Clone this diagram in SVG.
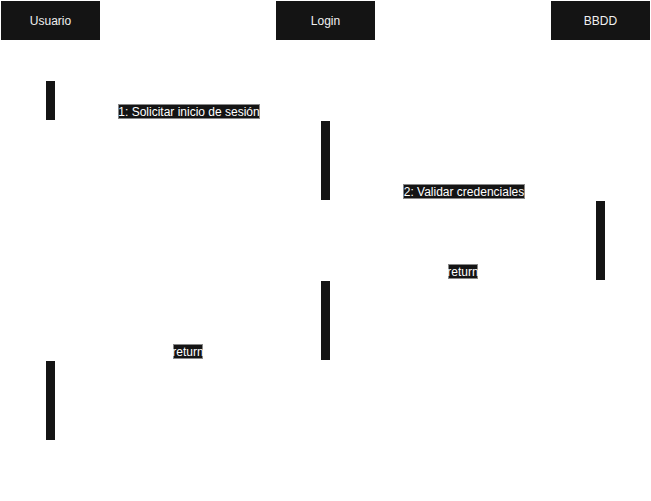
<svg xmlns="http://www.w3.org/2000/svg" width="651" height="501" viewBox="0 0 651 501">
<defs>
<style>
.hdr{fill:#141414}
.hdrt{fill:#f0f0f0;font-family:"Liberation Sans",Arial,sans-serif;font-size:12px;text-anchor:middle}
.act{fill:#141414}
.life{stroke:#ffffff;stroke-width:1;stroke-dasharray:4 3;fill:none}
.msg{stroke:#ffffff;stroke-width:1.5;fill:none}
.lblbg{fill:#141414;stroke:#888888;stroke-width:1}
.lbl{fill:#ffffff;font-family:"Liberation Sans",Arial,sans-serif;font-size:12px;text-anchor:middle}
</style>
<marker id="ah" markerWidth="8" markerHeight="8" refX="7" refY="4" orient="auto"><path d="M0,0 L8,4 L0,8 z" fill="#ffffff"/></marker>
</defs>
<rect width="651" height="501" fill="#ffffff"/>
<g id="usuario">
<rect class="hdr" x="1" y="1" width="99" height="39"/>
<text class="hdrt" x="50.5" y="25">Usuario</text>
<line class="life" x1="50.5" y1="40" x2="50.5" y2="480"/>
<rect class="act" x="46" y="81" width="9" height="39"/>
<rect class="act" x="46" y="361" width="9" height="79"/>
</g>
<g id="login">
<rect class="hdr" x="276" y="1" width="99" height="39"/>
<text class="hdrt" x="325.5" y="25">Login</text>
<line class="life" x1="325.5" y1="40" x2="325.5" y2="480"/>
<rect class="act" x="321" y="121" width="9" height="79"/>
<rect class="act" x="321" y="281" width="9" height="79"/>
</g>
<g id="bbdd">
<rect class="hdr" x="551" y="1" width="99" height="39"/>
<text class="hdrt" x="600.5" y="25">BBDD</text>
<line class="life" x1="600.5" y1="40" x2="600.5" y2="480"/>
<rect class="act" x="596" y="201" width="9" height="79"/>
</g>
<g id="connectors">
<line class="msg" x1="55" y1="120" x2="321" y2="120" marker-end="url(#ah)"/>
<line class="msg" x1="330" y1="200" x2="596" y2="200" marker-end="url(#ah)"/>
<line class="msg" x1="596" y1="280" x2="330" y2="280" stroke-dasharray="4 3" marker-end="url(#ah)"/>
<line class="msg" x1="321" y1="360" x2="55" y2="360" stroke-dasharray="4 3" marker-end="url(#ah)"/>
<rect class="lblbg" x="118.5" y="104.5" width="141" height="14"/>
<text class="lbl" x="189" y="116">1: Solicitar inicio de sesión</text>
<rect class="lblbg" x="403.5" y="184.5" width="121" height="14"/>
<text class="lbl" x="464" y="196">2: Validar credenciales</text>
<rect class="lblbg" x="448.5" y="264.5" width="29" height="14"/>
<text class="lbl" x="463" y="276">return</text>
<rect class="lblbg" x="173.5" y="344.5" width="29" height="14"/>
<text class="lbl" x="188" y="356">return</text>
</g>
</svg>
